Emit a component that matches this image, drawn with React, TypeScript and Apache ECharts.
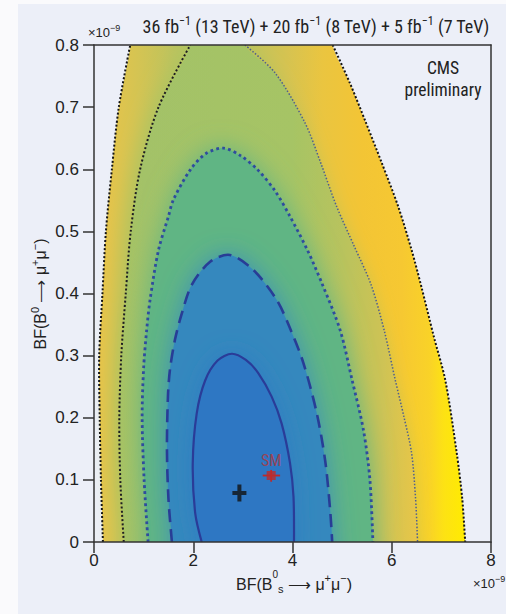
import React, { useEffect, useRef } from "react";
import * as echarts from "echarts";

type Pt = [number, number];

// Axis ticks (BF values in units of 1e-9)
const X_TICKS = [0, 2, 4, 6, 8];
const Y_TICKS = [0, 0.1, 0.2, 0.3, 0.4, 0.5, 0.6, 0.7, 0.8];

// Outer boundary of the coloured region (black dotted)
const BOUND_L: Pt[] = [[0.18, 0], [0.14, 0.1], [0.115, 0.2], [0.105, 0.3], [0.17, 0.4], [0.24, 0.5], [0.36, 0.6], [0.5, 0.7], [0.73, 0.8]];
const BOUND_R: Pt[] = [[4.81, 0.8], [5.15, 0.74], [5.48, 0.675], [5.8, 0.61], [6.13, 0.54], [6.4, 0.47], [6.6, 0.41], [6.85, 0.33], [7.08, 0.26], [7.31, 0.143], [7.42, 0.07], [7.48, 0]];

// 4 sigma contour: left (black dotted) and right (thin dotted)
const S4_L: Pt[] = [[0.6, 0], [0.53, 0.1], [0.51, 0.2], [0.55, 0.3], [0.64, 0.4], [0.74, 0.5], [0.93, 0.6], [1.3, 0.7], [1.94, 0.8]];
const S4_R: Pt[] = [[3.04, 0.8], [3.65, 0.755], [4.25, 0.675], [4.57, 0.61], [4.89, 0.54], [5.25, 0.475], [5.58, 0.415], [5.85, 0.34], [6.07, 0.261], [6.25, 0.2], [6.4, 0.143], [6.48, 0.07], [6.52, 0]];

// 3 sigma contour (thick dotted)
const S3: Pt[] = [[1.09, 0], [1.01, 0.1], [0.97, 0.2], [1.0, 0.28], [1.06, 0.34], [1.13, 0.39], [1.3, 0.47], [1.5, 0.524], [1.6, 0.551], [1.94, 0.599], [2.25, 0.625], [2.61, 0.634], [2.95, 0.622], [3.3, 0.599], [3.65, 0.565], [3.95, 0.524], [4.3, 0.47], [4.6, 0.415], [4.96, 0.341], [5.2, 0.261], [5.43, 0.18], [5.56, 0.1], [5.62, 0]];

// 2 sigma contour (dashed)
const S2: Pt[] = [[1.57, 0], [1.5, 0.07], [1.47, 0.15], [1.49, 0.234], [1.53, 0.277], [1.63, 0.325], [1.77, 0.368], [1.97, 0.414], [2.34, 0.451], [2.74, 0.462], [3.21, 0.438], [3.68, 0.39], [3.95, 0.344], [4.22, 0.288], [4.49, 0.207], [4.66, 0.13], [4.76, 0.05], [4.8, 0]];

// 1 sigma contour (solid)
const S1: Pt[] = [[2.17, 0], [2.04, 0.046], [1.99, 0.127], [2.07, 0.207], [2.24, 0.26], [2.49, 0.292], [2.78, 0.303], [3.06, 0.293], [3.31, 0.272], [3.58, 0.234], [3.78, 0.191], [3.95, 0.127], [4.02, 0.073], [4.03, 0]];

// Best fit and Standard Model prediction
const BEST_FIT: Pt = [2.93, 0.079];
const SM_POINT: Pt = [3.57, 0.107];
const SM_ERR_X: [number, number] = [3.4, 3.75];
const SM_ERR_Y: [number, number] = [0.097, 0.116];

const FONT = "'Liberation Sans', Arial, sans-serif";
const NARROW = "'Liberation Sans Narrow', 'Arial Narrow', 'Roboto Condensed', 'Liberation Sans', sans-serif";
const AXIS_COLOR = "#333";

function contourItem(_params: any, api: any) {
  const yBot = Y_TICKS[0];
  const yTop = Y_TICKS[Y_TICKS.length - 1];
  const EXT = 40; // px, pushes the fill past the clipped plot edges
  const edge = (p: Pt) => (p[1] <= yBot ? 1 : p[1] >= yTop ? -1 : 0);
  const c = (pts: Pt[]) => pts.map((p) => api.coord(p));
  const extended = (pts: Pt[]) => {
    const n = pts.length;
    const out: number[][] = [];
    for (let i = 0; i < n; i++) {
      const p = pts[i];
      const e = edge(p);
      const px = api.coord(p);
      if (!e) { out.push(px); continue; }
      const prev = pts[(i - 1 + n) % n];
      const next = pts[(i + 1) % n];
      const ext = [px[0], px[1] + e * EXT];
      if (edge(prev) === e) out.push(ext, px);
      else if (edge(next) === e) out.push(px, ext);
      else out.push(px);
    }
    return out;
  };
  const xa = api.coord([X_TICKS[0], 0])[0];
  const xb = api.coord([X_TICKS[X_TICKS.length - 1], 0])[0];
  const span = X_TICKS[X_TICKS.length - 1] - X_TICKS[0];
  const grad = (stops: [number, string][]) => ({
    type: "linear", x: xa, y: 0, x2: xb, y2: 0, global: true,
    colorStops: stops.map(([v, col]) => ({ offset: v / span, color: col })),
  });
  const SM = 0.3;
  const poly = (pts: Pt[], fill: any, extra: any = {}) => ({
    type: "polygon", silent: true,
    shape: { points: extended(pts), smooth: SM },
    style: { fill, stroke: "none", ...extra },
  });
  const line = (pts: Pt[], stroke: string, lineWidth: number, lineDash?: number[]) => ({
    type: "polyline", silent: true,
    shape: { points: c(pts), smooth: SM },
    style: { fill: "none", stroke, lineWidth, lineDash: lineDash || null },
  });
  const outerFill = grad([
    [0, "#ebc448"], [0.4, "#e2c44c"], [0.9, "#d4c453"], [1.6, "#bec35d"], [2.6, "#b8c35e"],
    [3.2, "#c2c35a"], [3.9, "#d6c351"], [4.6, "#eac540"], [5.4, "#f3c535"], [6.2, "#f6c832"],
    [6.75, "#f9d228"], [7.05, "#fde214"], [7.5, "#ffec00"], [8, "#ffec00"],
  ]);
  const s4Fill = grad([
    [0, "#b0c45f"], [1.0, "#a3c267"], [4.0, "#a6c465"], [5.0, "#b8c35d"], [5.8, "#cdc355"], [6.5, "#e8c648"], [8, "#e8c648"],
  ]);
  return {
    type: "group",
    children: [
      poly([...BOUND_L, ...BOUND_R], outerFill),
      poly([...S4_L, ...S4_R], s4Fill, { shadowBlur: 20, shadowOffsetX: -6, shadowColor: "rgba(172,196,98,0.95)" }),
      poly(S3, "#60b584", { shadowBlur: 26, shadowColor: "#60b584" }),
      poly(S2, "#3488be", { shadowBlur: 24, shadowColor: "#3a8fbc" }),
      poly(S1, "#2d77c3", { shadowBlur: 22, shadowColor: "#2e7bc3" }),
      line(BOUND_L, "#151515", 2, [2, 2]),
      line(BOUND_R, "#151515", 2, [2, 2]),
      line(S4_L, "#1e1e22", 2, [2, 2.2]),
      line(S4_R, "#4f5f8e", 1.5, [1.5, 1.8]),
      line(S3, "#2f4c9e", 2.8, [2.8, 3.2]),
      line(S2, "#283d96", 2.6, [13, 7]),
      line(S1, "#2a3c98", 2.2),
    ],
  };
}

function smErrItem(_params: any, api: any) {
  const a = api.coord([SM_ERR_X[0], SM_POINT[1]]);
  const b = api.coord([SM_ERR_X[1], SM_POINT[1]]);
  const cc = api.coord([SM_POINT[0], SM_ERR_Y[0]]);
  const d = api.coord([SM_POINT[0], SM_ERR_Y[1]]);
  const st = { stroke: "#bd2a2a", lineWidth: 1.8 };
  return {
    type: "group",
    children: [
      { type: "line", shape: { x1: a[0], y1: a[1], x2: b[0], y2: b[1] }, style: st },
      { type: "line", shape: { x1: cc[0], y1: cc[1], x2: d[0], y2: d[1] }, style: st },
    ],
  };
}

const axisLineStyle = { color: AXIS_COLOR, width: 1.5 };

export default function App() {
  const ref = useRef<HTMLDivElement>(null);
  useEffect(() => {
    if (!ref.current) return;
    const chart = echarts.init(ref.current, null, { renderer: "svg" });
    const xMin = X_TICKS[0], xMax = X_TICKS[X_TICKS.length - 1];
    const yMin = Y_TICKS[0], yMax = Y_TICKS[Y_TICKS.length - 1];
    const supStyle = { fontSize: 11, verticalAlign: "top", fontFamily: FONT, fill: "#222", lineHeight: 11 } as any;
    chart.setOption({
      animation: false,
      backgroundColor: "transparent",
      grid: { left: 94, top: 45, width: 397, height: 497, show: false },
      xAxis: [
        {
          type: "value", min: xMin, max: xMax, interval: X_TICKS[1] - X_TICKS[0], position: "bottom", z: 5,
          axisLine: { show: true, onZero: false, lineStyle: axisLineStyle },
          axisTick: { show: true, length: 11, lineStyle: axisLineStyle },
          axisLabel: { margin: 10, fontSize: 17, color: "#222", fontFamily: FONT },
          splitLine: { show: false },
        },
        {
          type: "value", min: xMin, max: xMax, position: "top", z: 5,
          axisLine: { show: true, onZero: false, lineStyle: axisLineStyle },
          axisTick: { show: false }, axisLabel: { show: false }, splitLine: { show: false },
        },
      ],
      yAxis: [
        {
          type: "value", min: yMin, max: yMax, interval: Y_TICKS[1] - Y_TICKS[0], position: "left", z: 5,
          axisLine: { show: true, onZero: false, lineStyle: axisLineStyle },
          axisTick: { show: true, length: 11, lineStyle: axisLineStyle },
          axisLabel: {
            margin: 15, fontSize: 17, color: "#222", fontFamily: FONT,
            formatter: (v: number) => (Math.abs(v) < 1e-9 ? "0" : v.toFixed(1)),
          },
          splitLine: { show: false },
        },
        {
          type: "value", min: yMin, max: yMax, position: "right", z: 5,
          axisLine: { show: true, onZero: false, lineStyle: axisLineStyle },
          axisTick: { show: false }, axisLabel: { show: false }, splitLine: { show: false },
        },
      ],
      series: [
        {
          type: "custom", coordinateSystem: "cartesian2d", clip: true, silent: true,
          data: [[xMin, yMin]], renderItem: contourItem, z: 2,
        },
        {
          type: "custom", coordinateSystem: "cartesian2d", silent: true,
          data: [SM_POINT], renderItem: smErrItem, z: 3,
        },
        {
          type: "scatter", silent: true, z: 4,
          data: [SM_POINT], symbol: "rect", symbolSize: 9,
          itemStyle: { color: "#bd2a2a" },
          label: { show: true, formatter: "SM", position: "top", distance: 3, color: "#b3363a", fontSize: 16, fontFamily: NARROW },
        },
        {
          type: "scatter", silent: true, z: 4,
          data: [BEST_FIT],
          symbol: "path://M5,0H9V6.5H14V10.5H9V17H5V10.5H0V6.5H5Z",
          symbolSize: [14, 17],
          itemStyle: { color: "#111" },
        },
      ],
      graphic: [
        {
          type: "text", x: 316, y: 26, z: 10, silent: true,
          style: {
            text: "36 fb{s|−1} (13 TeV) + 20 fb{s|−1} (8 TeV) + 5 fb{s|−1} (7 TeV)",
            fontSize: 18, fontFamily: NARROW, fill: "#222", align: "center", verticalAlign: "middle", lineHeight: 22,
            rich: { s: { ...supStyle, fontFamily: NARROW, fontSize: 12, lineHeight: 12 } },
          },
        },
        {
          type: "text", x: 88, y: 32, z: 10, silent: true,
          style: {
            text: "×10{s|−9}", fontSize: 13, fontFamily: FONT, fill: "#222", align: "left", verticalAlign: "middle", lineHeight: 18,
            rich: { s: { ...supStyle, fontSize: 9, lineHeight: 9 } },
          },
        },
        {
          type: "text", x: 473, y: 583, z: 10, silent: true,
          style: {
            text: "×10{s|−9}", fontSize: 13, fontFamily: FONT, fill: "#222", align: "left", verticalAlign: "middle", lineHeight: 18,
            rich: { s: { ...supStyle, fontSize: 9, lineHeight: 9 } },
          },
        },
        {
          type: "text", x: 443, y: 68, z: 10, silent: true,
          style: { text: "CMS", fontSize: 17.5, fontFamily: NARROW, fill: "#222", align: "center", verticalAlign: "middle" },
        },
        {
          type: "text", x: 443, y: 90, z: 10, silent: true,
          style: { text: "preliminary", fontSize: 17.5, fontFamily: NARROW, fill: "#222", align: "center", verticalAlign: "middle" },
        },
        {
          type: "text", x: 294, y: 584, z: 10, silent: true,
          style: {
            text: "BF(B{z|0}{b|s} ⟶ μ{s|+}μ{s|−})",
            fontSize: 16, fontFamily: FONT, fill: "#222", align: "center", verticalAlign: "middle", lineHeight: 30,
            rich: {
              s: { ...supStyle, padding: [3, 0, 0, 0] },
              z: { ...supStyle, fontSize: 10, lineHeight: 10 },
              b: { fontSize: 11, verticalAlign: "bottom", fontFamily: FONT, fill: "#222", lineHeight: 11, padding: [0, 0, 5, 0] },
            },
          },
        },
        {
          type: "text", x: 40, y: 294, rotation: Math.PI / 2, z: 10, silent: true,
          style: {
            text: "BF(B{s|0} ⟶ μ{s|+}μ{s|−})",
            fontSize: 16, fontFamily: FONT, fill: "#222", align: "center", verticalAlign: "middle", lineHeight: 22,
            rich: { s: supStyle },
          },
        },
      ],
    });
    return () => chart.dispose();
  }, []);
  return (
    <div style={{ position: "fixed", left: 0, top: 0, width: 506, height: 614, background: "#fafafc", overflow: "hidden" }}>
      <div style={{ position: "absolute", left: 18, top: 4, width: 488, height: 610, background: "#eceff8" }} />
      <div ref={ref} style={{ position: "absolute", left: 0, top: 0, width: 506, height: 614 }} />
    </div>
  );
}
